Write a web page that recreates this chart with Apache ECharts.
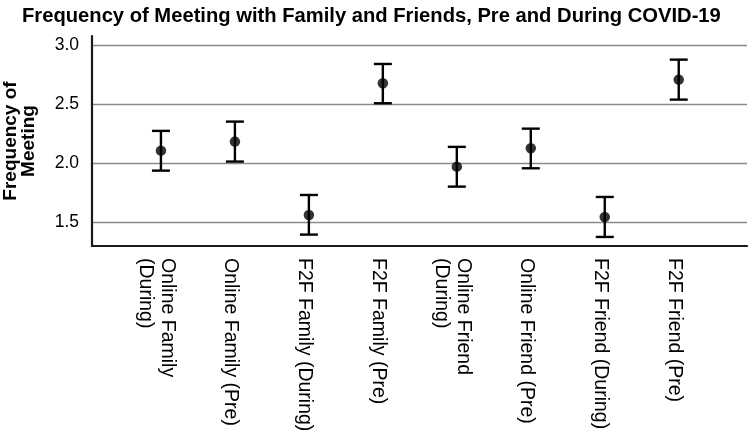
<!DOCTYPE html>
<html>
<head>
<meta charset="utf-8">
<script src="https://cdn.jsdelivr.net/npm/echarts@6/dist/echarts.min.js"></script>
<style>html,body{margin:0;padding:0;background:#fff;}#c{width:750px;height:432px;}</style>
</head>
<body>
<div id="c"></div>
<script>
const categories = [
  'Online Family\n(During)',
  'Online Family (Pre)',
  'F2F Family (During)',
  'F2F Family (Pre)',
  'Online Friend\n(During)',
  'Online Friend (Pre)',
  'F2F Friend (During)',
  'F2F Friend (Pre)'
];
const means = [2.107, 2.184, 1.560, 2.680, 1.971, 2.128, 1.543, 2.711];
const lower = [1.937, 2.014, 1.393, 2.510, 1.801, 1.957, 1.373, 2.541];
const upper = [2.275, 2.354, 1.730, 2.844, 2.139, 2.294, 1.713, 2.881];
const yTicks = [1.5, 2.0, 2.5, 3.0];

const FONT = 'Liberation Sans, Arial, sans-serif';
const positions = categories.map((c, i) => i + 1);
const LABEL_SHIFT = 0.065; // small leftward nudge of rotated labels, as in the original

const chart = echarts.init(document.getElementById('c'), null, {renderer: 'canvas'});
chart.setOption({
  animation: false,
  backgroundColor: '#fff',
  title: {
    text: 'Frequency of Meeting with Family and Friends, Pre and During COVID-19',
    left: 17,
    top: 1,
    textStyle: {fontFamily: FONT, fontSize: 20.2, fontWeight: 'bold', color: '#000'}
  },
  grid: {left: 92, right: 3, top: 36, bottom: 186, containLabel: false, outerBoundsMode: 'none'},
  xAxis: {
    type: 'value',
    min: 0.068,
    max: 8.923,
    axisLine: {show: true, onZero: false, lineStyle: {color: '#1a1a1a', width: 2.2}},
    axisTick: {show: false},
    splitLine: {show: false},
    axisLabel: {
      customValues: positions.map(p => p - LABEL_SHIFT),
      rotate: -90,
      margin: 12,
      fontFamily: FONT,
      fontSize: 19.5,
      color: '#000',
      lineHeight: 22,
      formatter: v => categories[Math.round(v) - 1] || ''
    }
  },
  yAxis: {
    type: 'value',
    min: 1.296,
    max: 3.082,
    splitNumber: 4,
    name: 'Frequency of\nMeeting',
    nameLocation: 'middle',
    nameGap: 54,
    nameTextStyle: {fontFamily: FONT, fontSize: 19, fontWeight: 'bold', color: '#000', lineHeight: 18},
    axisLine: {show: true, lineStyle: {color: '#1a1a1a', width: 2.2}},
    axisTick: {show: false},
    splitLine: {show: true, showMinLine: false, showMaxLine: false, lineStyle: {color: '#8a8a8a', width: 1.3}},
    axisLabel: {
      customValues: yTicks,
      margin: 13,
      fontFamily: FONT,
      fontSize: 17.5,
      color: '#000',
      formatter: v => v.toFixed(1)
    }
  },
  series: [
    {
      type: 'custom',
      data: positions.map((p, i) => [p, lower[i], upper[i]]),
      renderItem: function (params, api) {
        const x = api.value(0);
        const pHi = api.coord([x, api.value(2)]);
        const pLo = api.coord([x, api.value(1)]);
        const hw = 9;
        const st = {stroke: '#000', lineWidth: 2.4};
        return {
          type: 'group',
          children: [
            {type: 'line', shape: {x1: pHi[0], y1: pHi[1], x2: pLo[0], y2: pLo[1]}, style: st},
            {type: 'line', shape: {x1: pHi[0] - hw, y1: pHi[1], x2: pHi[0] + hw, y2: pHi[1]}, style: st},
            {type: 'line', shape: {x1: pLo[0] - hw, y1: pLo[1], x2: pLo[0] + hw, y2: pLo[1]}, style: st}
          ]
        };
      },
      z: 2
    },
    {
      type: 'scatter',
      data: positions.map((p, i) => [p, means[i]]),
      symbol: 'circle',
      symbolSize: 10.5,
      itemStyle: {color: '#000'},
      z: 3
    }
  ]
});
</script>
</body>
</html>
